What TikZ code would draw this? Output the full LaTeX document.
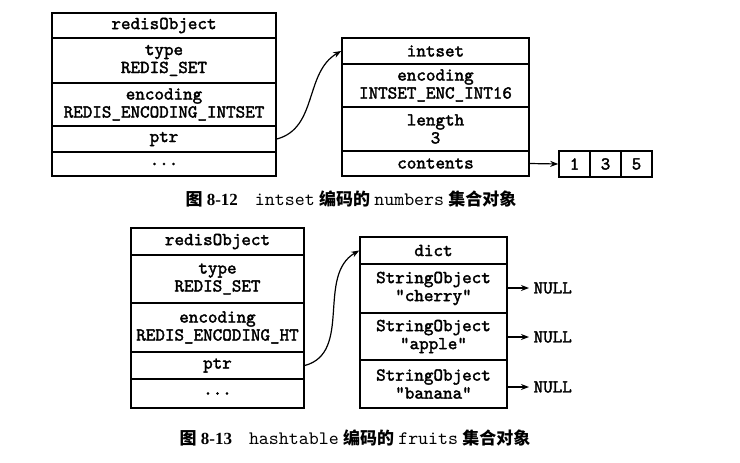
\documentclass[tikz,border=0pt]{standalone}
\usepackage{fontspec}
\setmainfont{Liberation Serif}
\setmonofont{lmmono10-regular.otf}[BoldFont=lmmono10-regular.otf, BoldFeatures={FakeBold=2}]
\newfontfamily\cjk{Noto Sans CJK SC}
\usetikzlibrary{arrows.meta}

\tikzset{
  cell/.style={draw, line width=0.8pt, inner sep=0pt, align=center,
    font=\fontsize{9.1}{9}\selectfont\ttfamily\bfseries},
  nulltext/.style={anchor=west, inner sep=0pt,
    font=\fontsize{9.1}{9}\selectfont\ttfamily\bfseries},
  caption/.style={font=\fontsize{8.5}{10}\selectfont}
}

\begin{document}
\begin{tikzpicture}[x=0.5pt, y=-0.5pt, >={Stealth[length=4pt,width=3pt]}, line width=0.6pt]
            \useasboundingbox (0,0) rectangle (740,462);

            % figure 8-12
            \node[cell, minimum width=112pt, minimum height=12.5pt] (ro1) at (164, 25.5) {redisObject};
            \node[cell, minimum width=112pt, minimum height=22.5pt] (type1) at (164, 60.5) {type\\REDIS\_SET};
            \node[cell, minimum width=112pt, minimum height=21.5pt] (enc1) at (164, 104.5) {encoding\\REDIS\_ENCODING\_INTSET};
            \node[cell, minimum width=112pt, minimum height=13pt] (ptr1) at (164, 139) {ptr};
            \node[cell, minimum width=112pt, minimum height=12pt] (dots1) at (164, 164) {...};

            \node[cell, minimum width=93.5pt, minimum height=13pt] (is) at (435.5, 51) {intset};
            \node[cell, minimum width=93.5pt, minimum height=21.5pt] (isenc) at (435.5, 85.5) {encoding\\INTSET\_ENC\_INT16};
            \node[cell, minimum width=93.5pt, minimum height=22pt] (islen) at (435.5, 129) {length\\3};
            \node[cell, minimum width=93.5pt, minimum height=12.5pt] (iscont) at (435.5, 163.5) {contents};

            \node[cell, minimum width=15.5pt, minimum height=13pt] (n1) at (574.5, 164) {1};
            \node[cell, minimum width=15.5pt, minimum height=13pt] (n3) at (605.5, 164) {3};
            \node[cell, minimum width=15.5pt, minimum height=13pt] (n5) at (636.5, 164) {5};

            \draw[->] (ptr1.east) to[out=15, in=210] (is.west);
            \draw[->] (iscont.east) -- (n1.west);

            \node[caption] (cap1) at (351, 199) {{\cjk\bfseries 图} {\bfseries 8-12}\quad{\ttfamily\fontsize{9.5}{10}\selectfont intset} {\cjk\bfseries 编码的} {\ttfamily\fontsize{9.5}{10}\selectfont numbers} {\cjk\bfseries 集合对象}};

            % figure 8-13
            \node[cell, minimum width=86.5pt, minimum height=13.5pt] (ro2) at (217.5, 241.5) {redisObject};
            \node[cell, minimum width=86.5pt, minimum height=24pt] (type2) at (217.5, 279) {type\\REDIS\_SET};
            \node[cell, minimum width=86.5pt, minimum height=24.5pt] (enc2) at (217.5, 327.5) {encoding\\REDIS\_ENCODING\_HT};
            \node[cell, minimum width=86.5pt, minimum height=13.5pt] (ptr2) at (217.5, 365.5) {ptr};
            \node[cell, minimum width=86.5pt, minimum height=14.5pt] (dots2) at (217.5, 393.5) {...};

            \node[cell, minimum width=73.5pt, minimum height=13.5pt] (dict) at (433.5, 250.5) {dict};
            \node[cell, minimum width=73.5pt, minimum height=24.5pt] (so1) at (433.5, 288.5) {StringObject\\"cherry"};
            \node[cell, minimum width=73.5pt, minimum height=23.5pt] (so2) at (433.5, 336.5) {StringObject\\"apple"};
            \node[cell, minimum width=73.5pt, minimum height=24pt] (so3) at (433.5, 384) {StringObject\\"banana"};

            \node[nulltext] (null1) at (533, 288) {NULL};
            \node[nulltext] (null2) at (533, 337) {NULL};
            \node[nulltext] (null3) at (533, 387) {NULL};

            \draw[->] (ptr2.east) to[out=15, in=210] (dict.west);
            \draw[->] (so1.east |- null1.west) -- ([xshift=-2pt]null1.west);
            \draw[->] (so2.east |- null2.west) -- ([xshift=-2pt]null2.west);
            \draw[->] (so3.east |- null3.west) -- ([xshift=-2pt]null3.west);

            \node[caption] (cap2) at (355, 438) {{\cjk\bfseries 图} {\bfseries 8-13}\quad{\ttfamily\fontsize{9.5}{10}\selectfont hashtable} {\cjk\bfseries 编码的} {\ttfamily\fontsize{9.5}{10}\selectfont fruits} {\cjk\bfseries 集合对象}};
        \end{tikzpicture}
\end{document}
